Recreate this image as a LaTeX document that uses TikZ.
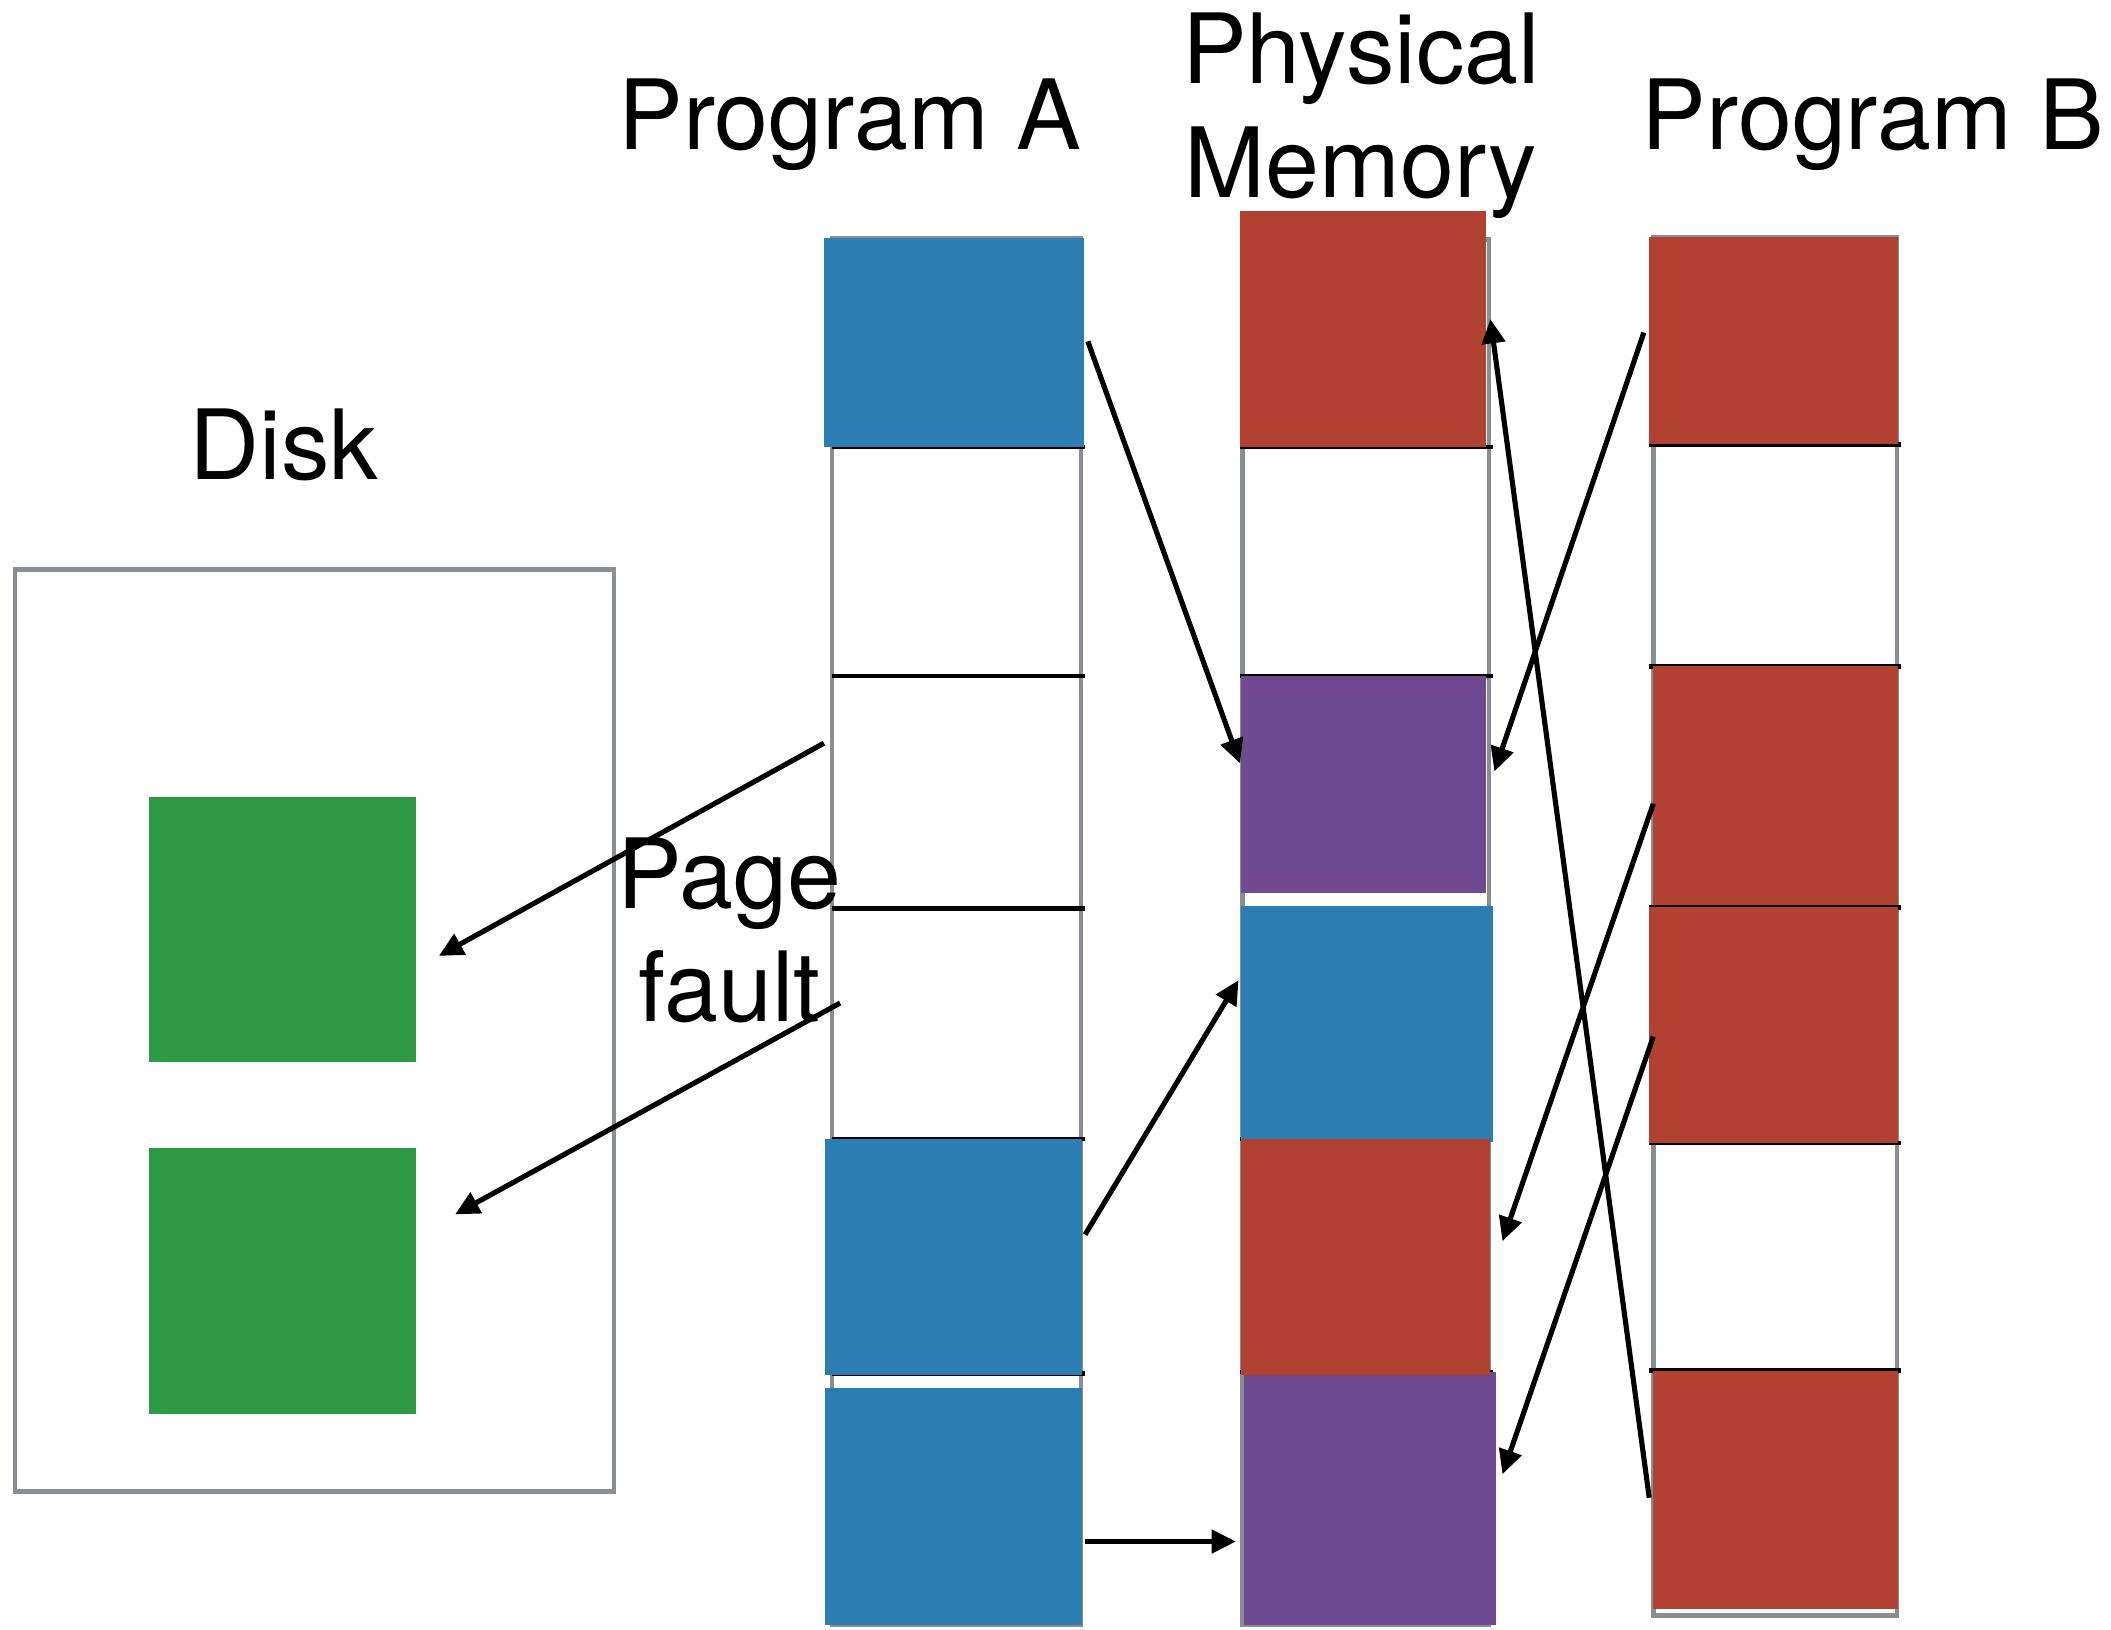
\documentclass[tikz,border=0pt]{standalone}
\usepackage{fontspec}
\setmainfont{TeX Gyre Heros}
\usetikzlibrary{arrows.meta,calc}
\definecolor{pageblue}{RGB}{44,125,177}
\definecolor{pagered}{RGB}{177,66,50}
\definecolor{pagepurple}{RGB}{111,74,145}
\definecolor{pagegreen}{RGB}{46,153,68}
\definecolor{colgray}{RGB}{138,141,146}
\begin{document}
\begin{tikzpicture}[x=1pt,y=-1pt,
  lbl/.style={font=\fontsize{72}{84.5}\selectfont, inner sep=0pt, outer sep=0pt, align=center},
  page/.style={inner sep=0pt, outer sep=0pt, draw=none, anchor=north west},
  cell/.style={inner sep=0pt, outer sep=0pt, draw=none, anchor=north west},
  column/.style={draw=colgray, line width=3.4pt},
  divider/.style={draw=black, line width=3.4pt},
  link/.style={line width=3.8pt, -{Triangle[length=18pt,width=17pt]}},
]
\useasboundingbox (0,0) rectangle (1568,1210);

% ---- disk ----
\draw[column] (11,423) rectangle (456,1108);
\node[page, fill=pagegreen, minimum width=198pt, minimum height=197pt] (g1) at (111,592) {};
\node[page, fill=pagegreen, minimum width=198pt, minimum height=197pt] (g2) at (111,853) {};

% ---- column outlines ----
\draw[column] (618,177) rectangle (803,1207);
\draw[column] (923,178) rectangle (1106,1207);
\draw[column] (1228,176) rectangle (1409,1200);

% ---- page dividers ----
\foreach \yy in {332,502,675,846,1020} \draw[divider] (618,\yy) -- (806,\yy);
\foreach \yy in {332,502,846,1019} \draw[divider] (921,\yy) -- (1109,\yy);
\foreach \yy in {330,495,674,849,1018} \draw[divider] (1225,\yy) -- (1412,\yy);

% ---- empty pages of program A ----
\node[cell, minimum width=185pt, minimum height=173pt] (a3) at (618,502) {};
\node[cell, minimum width=185pt, minimum height=171pt] (a4) at (618,675) {};

% ---- program A pages ----
\node[page, fill=pageblue, minimum width=193pt, minimum height=155pt] (a1) at (612,177) {};
\node[page, fill=pageblue, minimum width=191pt, minimum height=175pt] (a5) at (613,846) {};
\node[page, fill=pageblue, minimum width=191pt, minimum height=176pt] (a6) at (613,1031) {};

% ---- physical memory frames ----
\node[page, fill=pagered,    minimum width=183pt, minimum height=175pt] (m1) at (921,157) {};
\node[page, fill=pagepurple, minimum width=182pt, minimum height=161pt] (m2) at (922,502) {};
\node[page, fill=pageblue,   minimum width=187pt, minimum height=175pt] (m3) at (922,673) {};
\node[page, fill=pagepurple, minimum width=187pt, minimum height=188pt] (m5) at (924,1019) {};
\node[page, fill=pagered,    minimum width=185pt, minimum height=175pt] (m4) at (922,846) {};

% ---- program B pages ----
\node[page, fill=pagered, minimum width=185pt, minimum height=154pt] (b1) at (1225,176) {};
\node[page, fill=pagered, minimum width=182pt, minimum height=177pt] (b2) at (1228,495) {};
\node[page, fill=pagered, minimum width=185pt, minimum height=175pt] (b3) at (1225,674) {};
\node[page, fill=pagered, minimum width=182pt, minimum height=177pt] (b4) at (1228,1018) {};

% ---- mappings ----
\draw[link] ($(a1.east)+(3,-1)$) -- ($(m2.north west)+(-1,65)$);
\draw[link] ($(b1.west)+(-4,-6)$) -- ($(m2.north east)+(6,71)$);
\draw[link] ($(b4.west)+(-3,6)$) -- ($(m1.north east)+(3,80)$);
\draw[link] ($(a3.north west)+(-6,50)$) -- ($(g1.east)+(17,19.5)$);
\draw[link] ($(a4.north west)+(6,70)$) -- ($(g2.east)+(29,-49.5)$);
\draw[link] ($(a5.east)+(2,-16.5)$) -- ($(m3.west)+(-2,-32.5)$);
\draw[link] ($(a6.east)+(2,26)$) -- ($(m5.west)+(-6,32)$);
\draw[link] ($(b2.west)+(0,13.5)$) -- ($(m4.east)+(9,-11.5)$);
\draw[link] ($(b3.west)+(3,8.5)$) -- ($(m5.east)+(5,-18)$);

% ---- labels (base = baseline of the last line) ----
\node[lbl, anchor=base] (tA) at (631,111) {Program A};
\node[lbl, anchor=base] (tB) at (1391,111) {Program B};
\node[lbl, anchor=base] (tM) at (1011,146.5) {Physical\\Memory};
\node[lbl, anchor=base] (tD) at (211,356) {Disk};
\node[lbl, anchor=base] (tP) at (542,759) {Page\\fault};
\end{tikzpicture}
\end{document}
